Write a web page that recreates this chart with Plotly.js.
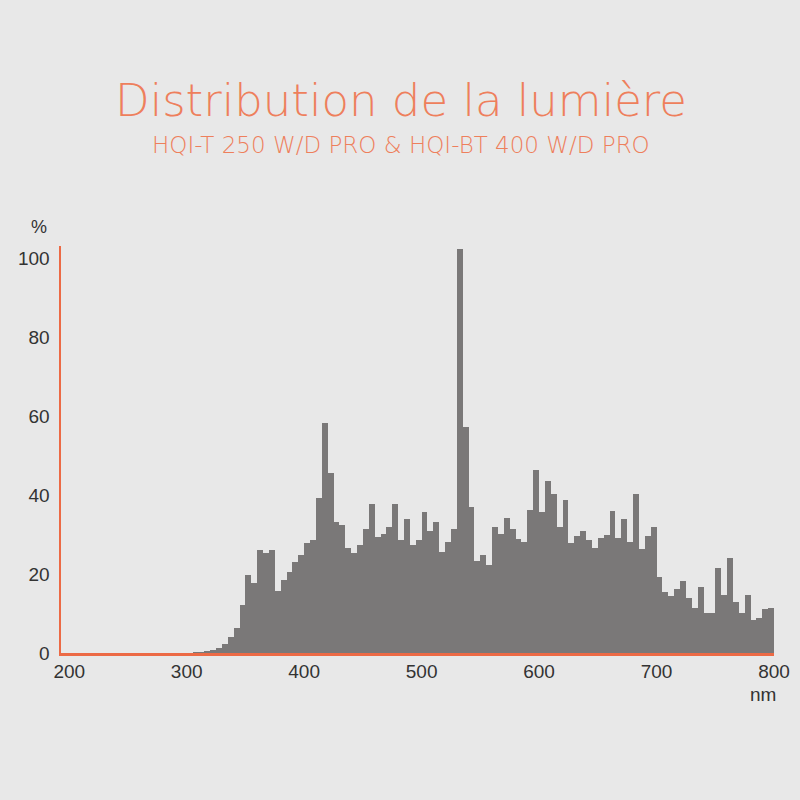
<!DOCTYPE html>
<html>
<head>
<meta charset="utf-8">
<script src="https://cdn.plot.ly/plotly-3.0.1.min.js"></script>
<style>html,body{margin:0;padding:0;background:#e8e8e8;}#chart{width:800px;height:800px;}</style>
</head>
<body>
<div id="chart"></div>
<script>
// Bin starts (nm), each bin 5 nm wide
const wavelengthStart = [
  300,305,310,315,320,325,330,335,340,345,350,355,360,365,370,375,380,385,390,395,
  400,405,410,415,420,425,430,435,440,445,450,455,460,465,470,475,480,485,490,495,
  500,505,510,515,520,525,530,535,540,545,550,555,560,565,570,575,580,585,590,595,
  600,605,610,615,620,625,630,635,640,645,650,655,660,665,670,675,680,685,690,695,
  700,705,710,715,720,725,730,735,740,745,750,755,760,765,770,775,780,785,790,795
];
const binWidth = 5;
// Relative intensity (%)
const intensity = [
  0.1,0.2,0.3,0.5,0.8,1.2,2.3,4.0,6.3,12.2,19.7,17.7,26.1,25.2,26.1,15.7,18.5,20.5,23.1,24.8,
  27.8,28.6,39.2,58.2,45.5,33.2,32.4,26.5,25.2,27.3,31.3,37.6,29.4,30.2,32.0,37.7,28.6,33.9,27.3,28.6,
  35.6,31.0,33.1,25.6,28.2,31.3,102.3,57.3,37.0,23.4,24.7,22.3,31.9,30.1,34.1,31.3,28.9,28.2,36.3,46.3,
  35.8,43.6,40.2,31.9,38.6,27.9,29.6,30.9,28.7,26.5,29.2,29.9,36.0,29.2,33.9,28.2,40.3,26.4,29.7,31.8,
  19.3,15.5,14.3,16.1,18.2,13.9,11.4,16.7,10.1,10.1,21.4,14.6,24.0,12.9,10.1,14.7,8.4,8.9,11.1,11.3
];
const xTickVals = [200,300,400,500,600,700,800];
const yTickVals = [0,20,40,60,80,100];

const titleText = "Distribution de la lumière";
const subtitleText = "HQI-T 250 W/D PRO &amp; HQI-BT 400 W/D PRO";
const yUnit = "%";
const xUnit = "nm";

const orange = "#ec6a45";
const titleColor = "#ee7f5c";
const labelColor = "#333333";
const labelFont = "Liberation Sans, Arial, sans-serif";

const trace = {
  type: "bar",
  x: wavelengthStart,
  y: intensity,
  offset: 0,
  width: binWidth,
  marker: {color: "#7a7878", line: {width: 0}},
  hoverinfo: "x+y"
};

const layout = {
  width: 800, height: 800,
  paper_bgcolor: "#e8e8e8",
  plot_bgcolor: "#e8e8e8",
  margin: {l: 61, r: 26, t: 246, b: 147},
  bargap: 0,
  showlegend: false,
  font: {family: labelFont, color: labelColor, size: 20},
  xaxis: {
    range: [193, 800],
    tickvals: xTickVals,
    showgrid: false, zeroline: false,
    showline: true, linecolor: orange, linewidth: 2.5,
    ticks: "", ticklabelstandoff: 0,
    tickfont: {family: labelFont, size: 19, color: labelColor}
  },
  yaxis: {
    range: [0, 103],
    tickvals: yTickVals,
    showgrid: false, zeroline: false,
    showline: true, linecolor: orange, linewidth: 2.5,
    ticks: "", ticklabelstandoff: 5,
    tickfont: {family: labelFont, size: 19, color: labelColor}
  },
  annotations: [
    {text: titleText, xref: "paper", yref: "paper", x: 0.477, y: 1.3563, xanchor: "center", yanchor: "middle",
     showarrow: false, font: {family: "DejaVu Sans, sans-serif", size: 45, color: titleColor, weight: 200}},
    {text: subtitleText, xref: "paper", yref: "paper", x: 0.477, y: 1.2482, xanchor: "center", yanchor: "middle",
     showarrow: false, font: {family: "DejaVu Sans, sans-serif", size: 23, color: titleColor, weight: 200}},
    {text: yUnit, xref: "paper", yref: "paper", x: -0.031, y: 1.047, xanchor: "center", yanchor: "middle",
     showarrow: false, font: {family: labelFont, size: 18, color: labelColor}},
    {text: xUnit, xref: "paper", yref: "paper", x: 0.985, y: -0.101, xanchor: "center", yanchor: "middle",
     showarrow: false, font: {family: labelFont, size: 19, color: labelColor}}
  ]
};

Plotly.newPlot("chart", [trace], layout, {displayModeBar: false, staticPlot: true});
</script>
</body>
</html>
